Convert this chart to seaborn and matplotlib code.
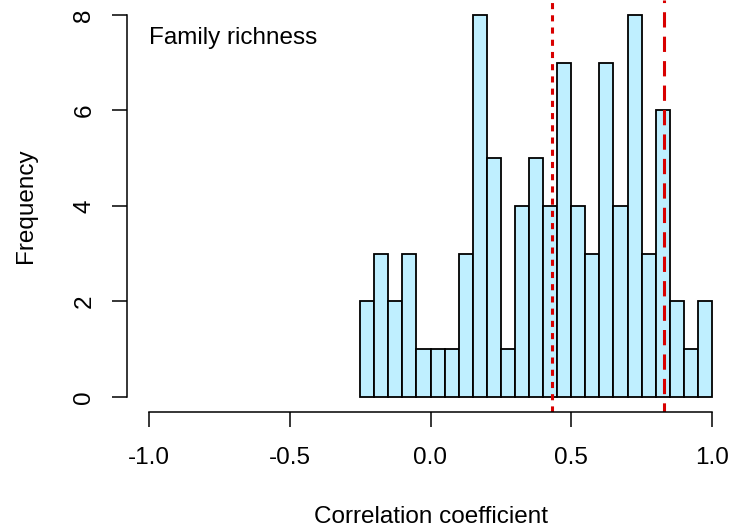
import numpy as np
import pandas as pd
import matplotlib
matplotlib.use("Agg")
import matplotlib.pyplot as plt
import seaborn as sns

# Histogram bins (width 0.05) and counts per bin
bin_start, bin_end, bin_width = -0.25, 1.0, 0.05
counts = [2, 3, 2, 3, 1, 1, 1, 3, 8, 5, 1, 4, 5, 4, 7, 4, 3, 7, 4, 8, 3, 6, 2, 1, 2]
mean_r = 0.43      # dotted reference line
observed_r = 0.83  # dashed reference line
x_ticks = [-1.0, -0.5, 0.0, 0.5, 1.0]
y_ticks = [0, 2, 4, 6, 8]

centers = bin_start + bin_width * (np.arange(len(counts)) + 0.5)
df = pd.DataFrame({"r": centers, "n": counts})

sns.set_style("white")
plt.rcParams["font.family"] = ["Liberation Sans", "DejaVu Sans"]
plt.rcParams["text.color"] = "black"
plt.rcParams["axes.labelcolor"] = "black"
plt.rcParams["xtick.color"] = "black"
plt.rcParams["ytick.color"] = "black"

FS = 17.5

fig = plt.figure(figsize=(7.31, 5.28), dpi=100)
ax = fig.add_axes([126.5 / 731, (528 - 412) / 528, 608 / 731, 412.3 / 528])

sns.histplot(data=df, x="r", weights="n", binwidth=bin_width,
             binrange=(bin_start, bin_end), stat="count",
             color="#BFEFFF", edgecolor="black", linewidth=1.3, alpha=1,
             ax=ax)

ax.axvline(mean_r, color="#D80000", linestyle=(0, (2, 2)), linewidth=2.2)
ax.axvline(observed_r, color="#D80000", linestyle=(2, (5, 3)), linewidth=2.2)

ax.set_xlim(-1.08, 1.08)
ax.set_ylim(-0.32, 8.32)
ax.set_xticks(x_ticks)
ax.set_xticklabels([f"{t:.1f}" for t in x_ticks])
ax.set_yticks(y_ticks)
ax.set_yticklabels([str(t) for t in y_ticks], rotation=90, va="center")

for s in ["top", "right"]:
    ax.spines[s].set_visible(False)
ax.spines["left"].set_bounds(0, 8)
ax.spines["bottom"].set_bounds(-1, 1)
for s in ["left", "bottom"]:
    ax.spines[s].set_linewidth(1.1)
    ax.spines[s].set_color("black")

ax.tick_params(axis="both", direction="out", length=10.5, width=1.1,
               labelsize=FS, left=True, bottom=True)
ax.tick_params(axis="x", pad=15)
ax.tick_params(axis="y", pad=12)

ax.set_xlabel("Correlation coefficient", fontsize=FS, labelpad=26)
ax.set_ylabel("Frequency", fontsize=FS, labelpad=26)

ax.text(-1.0, 7.39, "Family richness", fontsize=FS, ha="left", va="baseline")

fig.savefig("out.png", dpi=100)
